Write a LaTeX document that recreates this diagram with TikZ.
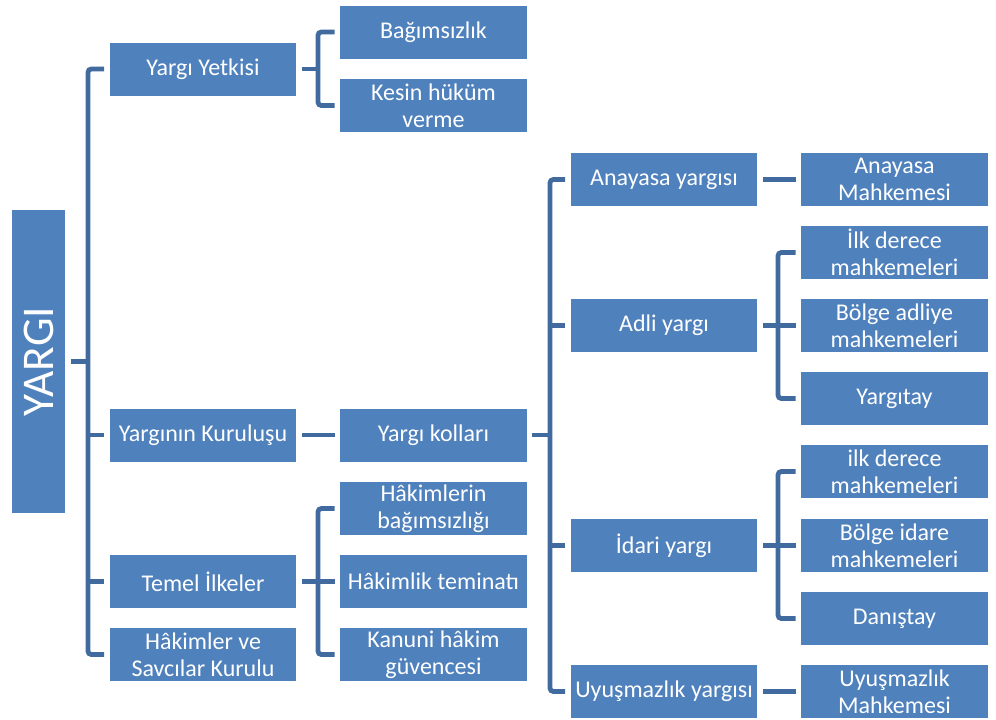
\documentclass[tikz,border=0pt]{standalone}
\usepackage{fontspec}
\setmainfont{Carlito}
\definecolor{boxblue}{HTML}{4F81BD}
\definecolor{linkblue}{HTML}{416A9E}
\tikzset{
  box/.style={fill=boxblue, text=white, align=center, inner sep=0pt,
    minimum width=140pt, minimum height=39.75pt,
    font=\fontsize{18}{20.3}\selectfont},
  link/.style={draw=linkblue, line width=3.6pt, rounded corners=2.5pt}
}
\begin{document}
\begin{tikzpicture}[x=0.75pt,y=-0.75pt]
  \useasboundingbox (0,0) rectangle (996,719);
  % root
  \node[box, minimum width=39.75pt, minimum height=227pt] (yargi) at (38.5,361.5)
    {\rotatebox{90}{\fontsize{34}{40}\selectfont YARGI}};
  % first level
  \node[box] (yetki) at (203,69) {Yargı Yetkisi};
  \node[box] (kurulus) at (203,435) {Yargının Kuruluşu};
  \node[box] (ilkeler) at (203,581.5) {Temel İlkeler};
  \node[box] (hsk) at (203,654.5) {Hâkimler ve\\Savcılar Kurulu};
  % second level
  \node[box] (bagimsiz) at (433.5,32) {Bağımsızlık};
  \node[box] (kesin) at (433.5,105.5) {Kesin hüküm\\verme};
  \node[box] (kollar) at (433.5,435) {Yargı kolları};
  \node[box] (hakbag) at (433.5,508.5) {Hâkimlerin\\bağımsızlığı};
  \node[box] (teminat) at (433.5,581.5) {Hâkimlik teminatı};
  \node[box] (kanuni) at (433.5,654.5) {Kanuni hâkim\\güvencesi};
  % third level
  \node[box] (anayasa) at (664,179.5) {Anayasa yargısı};
  \node[box] (adli) at (664,325.5) {Adli yargı};
  \node[box] (idari) at (664,545.5) {İdari yargı};
  \node[box] (uyusma) at (664,691.5) {Uyuşmazlık yargısı};
  % fourth level
  \node[box] (aym) at (894.5,179.5) {Anayasa\\Mahkemesi};
  \node[box] (ilkadli) at (894.5,252.5) {İlk derece\\mahkemeleri};
  \node[box] (bam) at (894.5,325.5) {Bölge adliye\\mahkemeleri};
  \node[box] (yargitay) at (894.5,398.5) {Yargıtay};
  \node[box] (ilkidari) at (894.5,471.5) {ilk derece\\mahkemeleri};
  \node[box] (bim) at (894.5,545.5) {Bölge idare\\mahkemeleri};
  \node[box] (danistay) at (894.5,618.5) {Danıştay};
  \node[box] (uym) at (894.5,691.5) {Uyuşmazlık\\Mahkemesi};
  % bracket lines
  \coordinate (b0) at (88,0);
  \coordinate (b1) at (318,0);
  \coordinate (b2) at (550,0);
  \coordinate (b3) at (778,0);
  % root bracket
  \draw[link] ([xshift=-4pt]yetki.west) -| (b0 |- hsk.west) -- ([xshift=-4pt]hsk.west);
  \draw[link] ([xshift=4pt]yargi.east) -- (b0 |- yargi.east);
  \draw[link] ([xshift=-4pt]kurulus.west) -- (b0 |- kurulus.west);
  \draw[link] ([xshift=-4pt]ilkeler.west) -- (b0 |- ilkeler.west);
  % Yargi Yetkisi
  \draw[link] ([xshift=-4pt]bagimsiz.west) -| (b1 |- kesin.west) -- ([xshift=-4pt]kesin.west);
  \draw[link] ([xshift=4pt]yetki.east) -- (b1 |- yetki.east);
  % Yarginin Kurulusu
  \draw[link] ([xshift=4pt]kurulus.east) -- ([xshift=-4pt]kollar.west);
  \draw[link] ([xshift=-4pt]anayasa.west) -| (b2 |- uyusma.west) -- ([xshift=-4pt]uyusma.west);
  \draw[link] ([xshift=4pt]kollar.east) -- (b2 |- kollar.east);
  \draw[link] ([xshift=-4pt]adli.west) -- (b2 |- adli.west);
  \draw[link] ([xshift=-4pt]idari.west) -- (b2 |- idari.west);
  \draw[link] ([xshift=4pt]anayasa.east) -- ([xshift=-4pt]aym.west);
  \draw[link] ([xshift=4pt]uyusma.east) -- ([xshift=-4pt]uym.west);
  % Adli yargi
  \draw[link] ([xshift=-4pt]ilkadli.west) -| (b3 |- yargitay.west) -- ([xshift=-4pt]yargitay.west);
  \draw[link] ([xshift=4pt]adli.east) -- ([xshift=-4pt]bam.west);
  % Idari yargi
  \draw[link] ([xshift=-4pt]ilkidari.west) -| (b3 |- danistay.west) -- ([xshift=-4pt]danistay.west);
  \draw[link] ([xshift=4pt]idari.east) -- ([xshift=-4pt]bim.west);
  % Temel Ilkeler
  \draw[link] ([xshift=-4pt]hakbag.west) -| (b1 |- kanuni.west) -- ([xshift=-4pt]kanuni.west);
  \draw[link] ([xshift=4pt]ilkeler.east) -- ([xshift=-4pt]teminat.west);
\end{tikzpicture}
\end{document}
